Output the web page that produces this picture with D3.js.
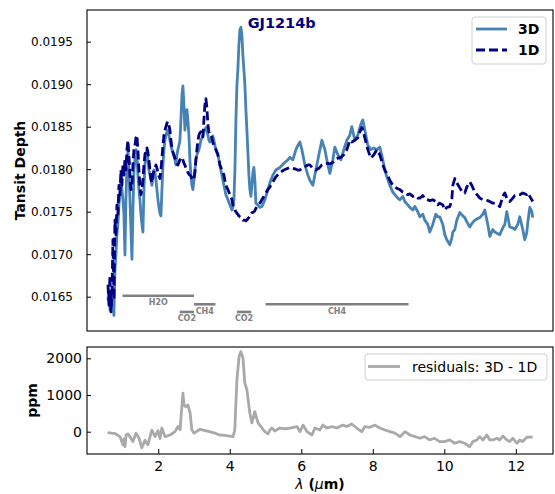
<!DOCTYPE html>
<html>
<head>
<meta charset="utf-8">
<script src="https://cdn.jsdelivr.net/npm/d3@7"></script>
<style>
  body { margin: 0; background: #fff; }
  svg { display: block; }
  text { font-family: "DejaVu Sans", sans-serif; }
</style>
</head>
<body>
<svg id="chart" width="555" height="494"></svg>
<script>
// Wavelength grid (micron) shared by the two transit spectra
const wavelength = [
  0.593,0.621,0.649,0.677,0.705,0.732,0.760,0.788,0.816,0.844,0.872,0.900,0.928,0.956,0.984,1.012,1.040,1.068,1.096,1.124,
  1.152,1.180,1.208,1.236,1.264,1.292,1.320,1.348,1.376,1.403,1.431,1.459,1.487,1.515,1.543,1.571,1.599,1.627,1.655,1.683,
  1.711,1.739,1.767,1.795,1.823,1.851,1.879,1.907,1.935,1.963,1.991,2.019,2.047,2.075,2.103,2.131,2.159,2.187,2.215,2.242,
  2.270,2.298,2.326,2.354,2.382,2.410,2.438,2.466,2.494,2.522,2.550,2.578,2.606,2.634,2.662,2.690,2.717,2.745,2.773,2.801,
  2.829,2.857,2.885,2.913,2.941,2.969,2.997,3.025,3.053,3.081,3.109,3.137,3.165,3.193,3.221,3.249,3.277,3.305,3.333,3.361,
  3.389,3.417,3.444,3.472,3.500,3.528,3.556,3.584,3.612,3.668,3.724,3.780,3.836,3.892,3.948,4.004,4.060,4.088,4.116,4.144,
  4.172,4.200,4.227,4.255,4.283,4.311,4.339,4.367,4.395,4.423,4.451,4.479,4.507,4.535,4.563,4.591,4.619,4.647,4.674,4.702,
  4.730,4.786,4.842,4.898,4.982,5.066,5.122,5.206,5.290,5.401,5.513,5.625,5.681,5.765,5.849,5.905,5.961,6.017,6.101,6.185,
  6.240,6.324,6.408,6.492,6.576,6.659,6.743,6.799,6.883,6.939,7.023,7.107,7.190,7.274,7.358,7.414,7.498,7.582,7.638,7.693,
  7.721,7.777,7.861,7.945,8.029,8.113,8.197,8.280,8.336,8.392,8.476,8.560,8.616,8.700,8.756,8.840,8.895,8.979,9.035,9.119,
  9.175,9.259,9.315,9.398,9.454,9.538,9.594,9.678,9.762,9.818,9.874,9.958,10.014,10.070,10.154,10.210,10.238,10.294,10.349,10.433,
  10.517,10.573,10.629,10.713,10.769,10.853,10.937,10.993,11.076,11.132,11.216,11.272,11.356,11.412,11.496,11.552,11.636,11.692,11.747,11.831,
  11.915,11.971,12.055,12.111,12.194,12.250,12.306,12.334,12.390,12.446,12.474
];

// Transit depth from the 3D model
const depth3D = [
  0.01646,0.01658,0.01634,0.01646,0.01658,0.01640,0.01628,0.01681,0.01699,0.01723,0.01735,0.01758,0.01770,0.01787,0.01776,0.01764,0.01747,0.01699,0.01764,0.01805,
  0.01823,0.01799,0.01764,0.01729,0.01694,0.01752,0.01799,0.01811,0.01823,0.01817,0.01793,0.01776,0.01764,0.01747,0.01735,0.01726,0.01776,0.01805,0.01817,0.01823,
  0.01811,0.01799,0.01793,0.01787,0.01781,0.01793,0.01799,0.01796,0.01787,0.01776,0.01764,0.01755,0.01748,0.01745,0.01776,0.01805,0.01823,0.01834,0.01840,0.01844,
  0.01846,0.01840,0.01834,0.01828,0.01823,0.01820,0.01817,0.01811,0.01805,0.01817,0.01823,0.01828,0.01834,0.01858,0.01887,0.01898,0.01876,0.01846,0.01858,0.01870,
  0.01858,0.01840,0.01811,0.01793,0.01781,0.01776,0.01787,0.01799,0.01811,0.01817,0.01820,0.01823,0.01828,0.01834,0.01837,0.01840,0.01844,0.01846,0.01849,0.01846,
  0.01840,0.01834,0.01832,0.01834,0.01837,0.01839,0.01834,0.01828,0.01823,0.01817,0.01805,0.01793,0.01781,0.01770,0.01764,0.01758,0.01752,0.01755,0.01764,0.01799,
  0.01858,0.01899,0.01917,0.01946,0.01964,0.01967,0.01958,0.01934,0.01917,0.01899,0.01870,0.01846,0.01820,0.01793,0.01776,0.01768,0.01781,0.01796,0.01802,0.01787,
  0.01760,0.01758,0.01755,0.01756,0.01764,0.01776,0.01784,0.01793,0.01799,0.01802,0.01807,0.01811,0.01814,0.01811,0.01823,0.01828,0.01832,0.01823,0.01805,0.01793,
  0.01787,0.01781,0.01799,0.01817,0.01834,0.01823,0.01805,0.01795,0.01811,0.01826,0.01817,0.01811,0.01823,0.01834,0.01840,0.01850,0.01834,0.01840,0.01849,0.01856,
  0.01858,0.01846,0.01828,0.01823,0.01825,0.01823,0.01826,0.01811,0.01799,0.01791,0.01781,0.01773,0.01770,0.01766,0.01764,0.01768,0.01762,0.01758,0.01755,0.01752,
  0.01756,0.01750,0.01744,0.01747,0.01740,0.01735,0.01726,0.01735,0.01747,0.01744,0.01744,0.01735,0.01723,0.01717,0.01711,0.01719,0.01726,0.01729,0.01740,0.01749,
  0.01745,0.01743,0.01738,0.01732,0.01736,0.01740,0.01742,0.01743,0.01747,0.01752,0.01735,0.01721,0.01729,0.01726,0.01724,0.01723,0.01731,0.01735,0.01750,0.01732,
  0.01731,0.01729,0.01735,0.01744,0.01729,0.01717,0.01725,0.01737,0.01755,0.01750,0.01743
];

// Transit depth from the 1D model
const depth1D = [
  0.01664,0.01640,0.01675,0.01632,0.01652,0.01717,0.01646,0.01740,0.01723,0.01758,0.01747,0.01781,0.01770,0.01799,0.01781,0.01805,0.01793,0.01811,0.01799,0.01823,
  0.01834,0.01817,0.01793,0.01776,0.01781,0.01805,0.01823,0.01828,0.01837,0.01840,0.01823,0.01799,0.01781,0.01770,0.01776,0.01787,0.01805,0.01817,0.01823,0.01825,
  0.01820,0.01811,0.01799,0.01789,0.01784,0.01793,0.01799,0.01801,0.01805,0.01801,0.01796,0.01792,0.01789,0.01799,0.01813,0.01828,0.01840,0.01846,0.01850,0.01854,
  0.01856,0.01852,0.01846,0.01834,0.01825,0.01820,0.01816,0.01813,0.01811,0.01807,0.01805,0.01808,0.01811,0.01813,0.01814,0.01811,0.01807,0.01805,0.01801,0.01799,
  0.01796,0.01794,0.01793,0.01792,0.01789,0.01787,0.01789,0.01796,0.01811,0.01823,0.01834,0.01840,0.01843,0.01844,0.01841,0.01838,0.01858,0.01876,0.01883,0.01872,
  0.01852,0.01844,0.01840,0.01840,0.01837,0.01831,0.01828,0.01825,0.01823,0.01817,0.01805,0.01799,0.01793,0.01781,0.01776,0.01770,0.01764,0.01758,0.01756,0.01752,
  0.01750,0.01748,0.01747,0.01745,0.01744,0.01743,0.01742,0.01740,0.01740,0.01740,0.01739,0.01740,0.01742,0.01743,0.01745,0.01748,0.01749,0.01749,0.01750,0.01751,
  0.01754,0.01757,0.01760,0.01764,0.01770,0.01776,0.01779,0.01785,0.01791,0.01796,0.01799,0.01801,0.01802,0.01801,0.01800,0.01799,0.01799,0.01801,0.01803,0.01805,
  0.01805,0.01801,0.01799,0.01801,0.01805,0.01806,0.01807,0.01806,0.01808,0.01811,0.01813,0.01814,0.01817,0.01823,0.01834,0.01832,0.01834,0.01837,0.01844,0.01849,
  0.01846,0.01837,0.01823,0.01813,0.01817,0.01823,0.01817,0.01805,0.01799,0.01795,0.01787,0.01781,0.01779,0.01777,0.01776,0.01773,0.01772,0.01770,0.01771,0.01768,
  0.01769,0.01766,0.01766,0.01769,0.01765,0.01764,0.01763,0.01764,0.01762,0.01758,0.01760,0.01758,0.01752,0.01755,0.01756,0.01764,0.01781,0.01789,0.01784,0.01778,
  0.01772,0.01772,0.01779,0.01785,0.01781,0.01773,0.01769,0.01766,0.01764,0.01764,0.01763,0.01762,0.01760,0.01760,0.01758,0.01756,0.01768,0.01772,0.01766,0.01762,
  0.01766,0.01769,0.01770,0.01770,0.01772,0.01771,0.01770,0.01772,0.01768,0.01764,0.01762
];

// Residuals 3D - 1D (ppm) on their own wavelength grid
const residWavelength = [
  0.58,0.79,0.93,1.01,1.04,1.07,1.10,1.15,1.21,1.29,1.38,1.46,1.54,1.63,1.71,1.82,1.91,1.99,2.05,2.10,
  2.19,2.33,2.47,2.55,2.61,2.66,2.69,2.72,2.77,2.83,2.89,2.94,3.00,3.17,3.31,3.44,3.58,3.72,3.86,4.00,
  4.09,4.14,4.20,4.26,4.31,4.37,4.42,4.48,4.56,4.62,4.70,4.79,4.90,4.98,5.07,5.12,5.18,5.26,5.40,5.55,
  5.68,5.88,5.96,6.05,6.16,6.30,6.38,6.52,6.60,6.72,6.86,7.00,7.16,7.27,7.41,7.55,7.69,7.78,7.92,8.06,
  8.20,8.34,8.48,8.62,8.76,8.90,9.04,9.18,9.32,9.45,9.59,9.73,9.87,10.01,10.15,10.29,10.43,10.57,10.71,10.80,
  10.91,10.99,11.08,11.19,11.27,11.36,11.47,11.55,11.64,11.75,11.83,11.92,12.03,12.11,12.19,12.31,12.39,12.47
];
const residualPpm = [
  -27,-50,-135,-360,-200,-410,-90,-60,-140,-270,-40,-170,-440,-230,-360,40,-135,30,-180,100,
  -135,-90,0,140,50,680,1050,730,680,730,510,45,-40,65,30,0,-40,-90,-100,-120,
  -135,45,1410,2045,2180,2000,1330,1140,510,240,545,240,100,0,-60,40,100,20,100,80,
  100,140,0,180,0,-90,100,45,180,100,140,100,180,140,210,100,0,140,120,180,
  100,45,0,-40,-135,0,-90,-135,-180,-135,-225,-180,-270,-270,-225,-315,-270,-315,-410,-270,
  -225,-135,-225,-90,-225,-225,-180,-225,-120,-225,-270,-180,-315,-225,-270,-150,-150,-150
];

// Molecular absorption bands (micron) and the depth level each marker sits at
const bandNames = ["H2O", "CO2", "CH4", "CO2", "CH4"];
const bandStart = [1.0, 2.6, 3.0, 4.2, 5.0];
const bandEnd   = [3.0, 3.0, 3.6, 4.6, 9.0];
const bandLevel = [0.01651, 0.01632, 0.01641, 0.01632, 0.01641];

// Tick values
const depthTicks = [0.0165, 0.0170, 0.0175, 0.0180, 0.0185, 0.0190, 0.0195];
const ppmTicks = [0, 1000, 2000];
const lambdaTicks = [2, 4, 6, 8, 10, 12];

const svg = d3.select("#chart");
const left = 87, right = 553;
const top1 = 10, bottom1 = 331, top2 = 347, bottom2 = 454;

const x = d3.scaleLinear().domain([0.007, 13.04]).range([left, right]);
const yTop = d3.scaleLinear().domain([0.016096, 0.019873]).range([bottom1, top1]);
const yBot = d3.scaleLinear().domain([-608, 2308]).range([bottom2, top2]);

const colors = { d3: "steelblue", d1: "navy", resid: "darkgray", band: "#808080" };

// clip paths for each panel
const defs = svg.append("defs");
defs.append("clipPath").attr("id", "clipTop")
  .append("rect").attr("x", left).attr("y", top1).attr("width", right - left).attr("height", bottom1 - top1);
defs.append("clipPath").attr("id", "clipBot")
  .append("rect").attr("x", left).attr("y", top2).attr("width", right - left).attr("height", bottom2 - top2);

// ---------- top panel: spectra ----------
const gTop = svg.append("g").attr("clip-path", "url(#clipTop)");

const line3D = d3.line().x((d, i) => x(wavelength[i])).y(d => yTop(d));
gTop.append("path").datum(depth3D)
  .attr("d", line3D).attr("fill", "none")
  .attr("stroke", colors.d3).attr("stroke-width", 2.8).attr("stroke-linejoin", "round");

gTop.append("path").datum(depth1D)
  .attr("d", line3D).attr("fill", "none")
  .attr("stroke", colors.d1).attr("stroke-width", 2.8)
  .attr("stroke-dasharray", "9,4").attr("stroke-linejoin", "round");

// absorption band markers
const bands = bandNames.map((name, i) => ({ name, x0: bandStart[i], x1: bandEnd[i], y: bandLevel[i] }));
gTop.selectAll("line.band").data(bands).join("line")
  .attr("class", "band")
  .attr("x1", d => x(d.x0)).attr("x2", d => x(d.x1))
  .attr("y1", d => yTop(d.y)).attr("y2", d => yTop(d.y))
  .attr("stroke", colors.band).attr("stroke-width", 2.6);
gTop.selectAll("text.band").data(bands).join("text")
  .attr("class", "band")
  .attr("x", d => x((d.x0 + d.x1) / 2)).attr("y", d => yTop(d.y) + 9.5)
  .attr("text-anchor", "middle").attr("font-size", 8).attr("font-weight", "bold")
  .attr("fill", colors.band).text(d => d.name);

// planet name
svg.append("text").attr("x", x(4.5)).attr("y", yTop(0.01966))
  .attr("font-size", 14.5).attr("font-weight", "bold").attr("fill", colors.d1)
  .text("GJ1214b");

// frame
svg.append("rect").attr("x", left).attr("y", top1).attr("width", right - left).attr("height", bottom1 - top1)
  .attr("fill", "none").attr("stroke", "#000").attr("stroke-width", 1.1);

// y axis (ticks pointing inward)
const axTop = svg.append("g").attr("transform", `translate(${left},0)`)
  .call(d3.axisLeft(yTop).tickValues(depthTicks).tickFormat(d3.format(".4f")).tickSize(-4).tickPadding(14));
axTop.select(".domain").remove();
axTop.selectAll("text").attr("font-size", 12).attr("fill", "#000").style("font-family", "DejaVu Sans");
axTop.selectAll("line").attr("stroke", "#000");

svg.append("text")
  .attr("transform", `translate(25,${(top1 + bottom1) / 2}) rotate(-90)`)
  .attr("text-anchor", "middle").attr("font-size", 14).attr("font-weight", "bold")
  .text("Tansit Depth");

// legend
const lg = svg.append("g");
lg.append("rect").attr("x", 472).attr("y", 17).attr("width", 74).attr("height", 47).attr("rx", 3)
  .attr("fill", "#fff").attr("fill-opacity", 0.8).attr("stroke", "#d0d0d0");
lg.append("line").attr("x1", 476).attr("x2", 507).attr("y1", 29).attr("y2", 29)
  .attr("stroke", colors.d3).attr("stroke-width", 2.8);
lg.append("line").attr("x1", 476).attr("x2", 507).attr("y1", 50).attr("y2", 50)
  .attr("stroke", colors.d1).attr("stroke-width", 2.8).attr("stroke-dasharray", "9,4");
lg.append("text").attr("x", 518).attr("y", 34).attr("font-size", 14).attr("font-weight", "bold").text("3D");
lg.append("text").attr("x", 518).attr("y", 55).attr("font-size", 14).attr("font-weight", "bold").text("1D");

// ---------- bottom panel: residuals ----------
const gBot = svg.append("g").attr("clip-path", "url(#clipBot)");
const lineRes = d3.line().x((d, i) => x(residWavelength[i])).y(d => yBot(d));
gBot.append("path").datum(residualPpm)
  .attr("d", lineRes).attr("fill", "none")
  .attr("stroke", colors.resid).attr("stroke-width", 2.8).attr("stroke-linejoin", "round");

svg.append("rect").attr("x", left).attr("y", top2).attr("width", right - left).attr("height", bottom2 - top2)
  .attr("fill", "none").attr("stroke", "#000").attr("stroke-width", 1.1);

const axBotY = svg.append("g").attr("transform", `translate(${left},0)`)
  .call(d3.axisLeft(yBot).tickValues(ppmTicks).tickFormat(d3.format("d")).tickSize(-4).tickPadding(5));
axBotY.select(".domain").remove();
axBotY.selectAll("text").attr("font-size", 14).attr("fill", "#000").style("font-family", "DejaVu Sans");
axBotY.selectAll("line").attr("stroke", "#000");

const axBotX = svg.append("g").attr("transform", `translate(0,${bottom2})`)
  .call(d3.axisBottom(x).tickValues(lambdaTicks).tickFormat(d3.format("d")).tickSize(-5).tickPadding(7));
axBotX.select(".domain").remove();
axBotX.selectAll("text").attr("font-size", 14).attr("fill", "#000").style("font-family", "DejaVu Sans");
axBotX.selectAll("line").attr("stroke", "#000");

svg.append("text")
  .attr("transform", `translate(37,${(top2 + bottom2) / 2}) rotate(-90)`)
  .attr("text-anchor", "middle").attr("font-size", 14).attr("font-weight", "bold")
  .text("ppm");

const xl = svg.append("text").attr("x", (left + right) / 2).attr("y", 489)
  .attr("text-anchor", "middle").attr("font-size", 14);
xl.append("tspan").attr("font-style", "italic").text("λ");
xl.append("tspan").attr("font-weight", "bold").text(" (");
xl.append("tspan").attr("font-style", "italic").text("μ");
xl.append("tspan").attr("font-weight", "bold").text("m)");

// residual legend
const lg2 = svg.append("g");
lg2.append("rect").attr("x", 365).attr("y", 354).attr("width", 182).attr("height", 26).attr("rx", 3)
  .attr("fill", "#fff").attr("fill-opacity", 0.8).attr("stroke", "#d0d0d0");
lg2.append("line").attr("x1", 368).attr("x2", 400).attr("y1", 366.5).attr("y2", 366.5)
  .attr("stroke", colors.resid).attr("stroke-width", 2.8);
lg2.append("text").attr("x", 412).attr("y", 371.5).attr("font-size", 14).text("residuals: 3D - 1D");
</script>
</body>
</html>
